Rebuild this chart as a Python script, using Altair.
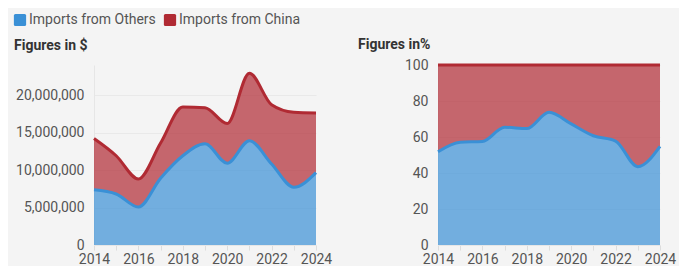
import altair as alt
import pandas as pd

years = [2014, 2015, 2016, 2017, 2018, 2019, 2020, 2021, 2022, 2023, 2024]
others = [7.36e6, 6.8e6, 5.06e6, 8.9e6, 11.9e6, 13.5e6, 10.9e6, 13.9e6, 10.8e6, 7.7e6, 9.65e6]
china = [6.84e6, 5.1e6, 3.74e6, 4.7e6, 6.5e6, 4.8e6, 5.3e6, 9.0e6, 7.9e6, 10.0e6, 7.95e6]
series = ["Imports from Others", "Imports from China"]
line_colors = ["#3a90d6", "#b02a33"]

rows = []
for i, y in enumerate(years):
    rows.append({"year": y, "series": series[0], "value": others[i], "order": 0})
    rows.append({"year": y, "series": series[1], "value": china[i], "order": 1})
df = pd.DataFrame(rows)

FONT = "Roboto"
rounded = "M -0.75,-1 H 0.75 Q 1,-1 1,-0.75 V 0.75 Q 1,1 0.75,1 H -0.75 Q -1,1 -1,0.75 V -0.75 Q -1,-1 -0.75,-1 Z"

color = alt.Color("series:N", sort=series,
                  scale=alt.Scale(domain=series, range=line_colors),
                  legend=alt.Legend(title=None, orient="none", legendX=-81, legendY=-52,
                                    direction="horizontal",
                                    symbolType=rounded, symbolSize=150,
                                    symbolStrokeWidth=0, symbolOpacity=1,
                                    labelFontSize=14, labelColor="#555555", labelFont=FONT,
                                    columnPadding=7, labelOffset=2, padding=0))

xaxis = alt.Axis(title=None, values=years, grid=False,
                 labelExpr="datum.value % 2 == 0 ? datum.value : ''",
                 labelFontSize=14, labelColor="#555555", labelFont=FONT,
                 tickSize=5, tickColor="#dddddd", domainColor="#e6e6e6",
                 labelPadding=2, labelFlush=False)

x = alt.X("year:Q", axis=xaxis, scale=alt.Scale(domain=[2014, 2024], nice=False, zero=False))
order = alt.Order("order:Q")

def panel(stack, yscale, yaxis, title, h, toff):
    y = alt.Y("value:Q", stack=stack, scale=yscale, axis=yaxis)
    base = alt.Chart(df).encode(x=x, y=y, color=color, order=order)
    area = base.mark_area(interpolate="monotone", fillOpacity=0.7)
    line = base.mark_line(interpolate="monotone", strokeWidth=3)
    return alt.layer(area, line).properties(
        width=222, height=h,
        title=alt.TitleParams(title, anchor="start", frame="group", dx=-80,
                              font=FONT, fontSize=14, fontWeight="bold",
                              color="#333333", offset=toff))

left = panel("zero",
             alt.Scale(domain=[0, 24000000], nice=False),
             alt.Axis(title=None, values=[0, 5000000, 10000000, 15000000, 20000000],
                      format=",d", labelFontSize=14, labelColor="#555555", labelFont=FONT,
                      ticks=False, labelPadding=10, domainColor="#e6e6e6",
                      gridColor="#e9e9e9"),
             "Figures in $", 180, 12)

right = panel("normalize",
              alt.Scale(domain=[0, 1], nice=False),
              alt.Axis(title=None, values=[0, 0.2, 0.4, 0.6, 0.8, 1.0],
                       labelExpr="format(datum.value * 100, 'd')",
                       labelFontSize=14, labelColor="#555555", labelFont=FONT,
                       ticks=False, labelPadding=10, domainColor="#e6e6e6",
                       gridColor="#e9e9e9"),
              "Figures in%", 180, 6)

chart = alt.hconcat(left, right, spacing=26).properties(
    background="#f4f4f4", padding={"left": 5, "top": 5, "right": 3, "bottom": 0}
).configure_view(stroke=None)

chart.save("out.html", embed_options={"renderer": "svg", "actions": False})
